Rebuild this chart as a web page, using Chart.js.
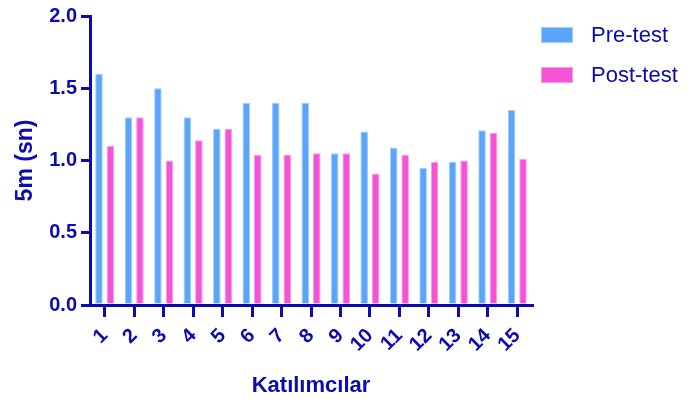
<!DOCTYPE html>
<html><head><meta charset="utf-8">
<script src="https://cdn.jsdelivr.net/npm/chart.js@4.4.0/dist/chart.umd.min.js"></script>
<style>html,body{margin:0;padding:0;background:#fff;}#c{display:block;}</style>
</head><body>
<canvas id="c" width="698" height="403"></canvas>
<script>
const categories = ['1','2','3','4','5','6','7','8','9','10','11','12','13','14','15'];
const preTest  = [1.60,1.30,1.50,1.30,1.22,1.40,1.40,1.40,1.05,1.20,1.09,0.95,0.99,1.21,1.35];
const postTest = [1.10,1.30,1.00,1.14,1.22,1.04,1.04,1.05,1.05,0.91,1.04,0.99,1.00,1.19,1.01];
const seriesNames = ['Pre-test','Post-test'];
const yTicks = [0,0.5,1.0,1.5,2.0];

const AX = '#0b0bb0';
const FONT = "'Liberation Sans', Arial, Helvetica, sans-serif";

// legend drawn from the datasets (names + colours)
const sideLegend = {
  id: 'sideLegend',
  afterDraw(chart) {
    const ctx = chart.ctx, ca = chart.chartArea;
    const x0 = ca.right + 9;
    ctx.save();
    ctx.font = "22px " + FONT;
    ctx.textBaseline = 'middle';
    ctx.textAlign = 'left';
    chart.data.datasets.forEach((ds, i) => {
      const y = ca.top + 11 + i * 40;
      ctx.fillStyle = ds.backgroundColor;
      ctx.fillRect(x0, y, 32, 16);
      ctx.strokeStyle = ds.borderColor;
      ctx.lineWidth = 1;
      ctx.strokeRect(x0 + 0.5, y + 0.5, 31, 15);
      ctx.fillStyle = AX;
      ctx.fillText(ds.label, x0 + 50, y + 8.5);
    });
    ctx.restore();
  }
};

new Chart(document.getElementById('c'), {
  type: 'bar',
  data: {
    labels: categories,
    datasets: [
      {label: seriesNames[0], data: preTest, backgroundColor: '#5aa4fa', borderColor: '#a2cdfc', borderWidth: 1,
       categoryPercentage: 0.78, barPercentage: 0.66},
      {label: seriesNames[1], data: postTest, backgroundColor: '#f552d6', borderColor: '#f99ce6', borderWidth: 1,
       categoryPercentage: 0.78, barPercentage: 0.66}
    ]
  },
  plugins: [sideLegend],
  options: {
    responsive: false,
    animation: false,
    layout: {padding: {top: 14, left: 0, right: 166, bottom: 0}},
    plugins: {
      tooltip: {enabled: false},
      legend: {display: false}
    },
    scales: {
      x: {
        offset: true,
        afterFit: (s) => { s.height = 98; },
        grid: {display: true, drawOnChartArea: false, drawTicks: true, tickLength: 12, offset: false, color: AX, lineWidth: 3},
        border: {display: true, color: AX, width: 3},
        ticks: {color: AX, font: {family: FONT, size: 20, weight: 'bold'}, minRotation: 45, maxRotation: 45, padding: 7, autoSkip: false},
        title: {display: true, text: 'Katılımcılar', color: AX, font: {family: FONT, size: 22, weight: 'bold'}, padding: {top: 0, bottom: 4}}
      },
      y: {
        min: 0, max: 2.0,
        afterFit: (s) => { s.width = 90; },
        afterBuildTicks: (s) => { s.ticks = yTicks.map(v => ({value: v})); },
        grid: {display: true, drawOnChartArea: false, drawTicks: true, tickLength: 9, color: AX, lineWidth: 3},
        border: {display: true, color: AX, width: 3},
        ticks: {color: AX, font: {family: FONT, size: 20, weight: 'bold'}, padding: 4,
                callback: (v) => Number(v).toFixed(1)},
        title: {display: true, text: '5m (sn)', color: AX, font: {family: FONT, size: 23, weight: 'bold'}, padding: {top: 12, bottom: 0}}
      }
    }
  }
});
</script>
</body></html>
